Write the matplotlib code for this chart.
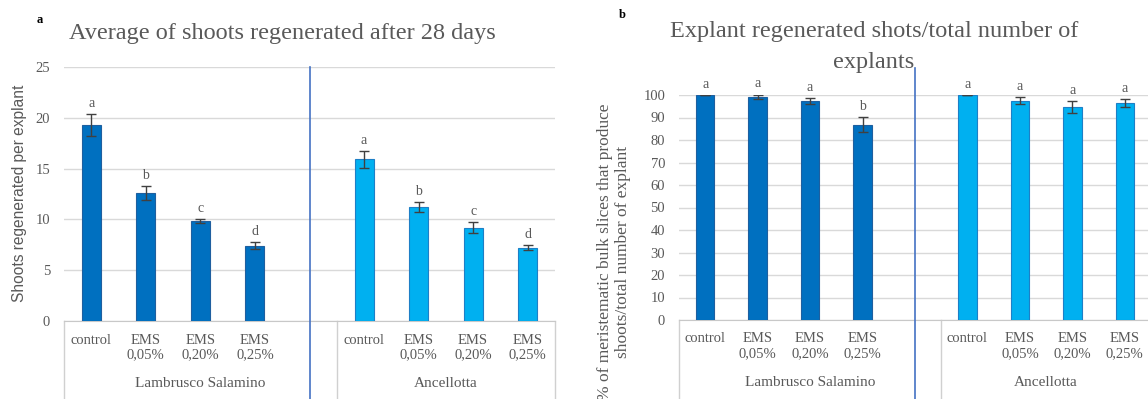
import matplotlib.pyplot as plt

# categories (slot 4 is left empty in both charts, as in the original sheet)
cat_labels = ["control", "EMS\n0,05%", "EMS\n0,20%", "EMS\n0,25%"]
groups = ["Lambrusco Salamino", "Ancellotta"]

# panel a: average shoots regenerated per explant
shoots_lamb = [19.3, 12.6, 9.85, 7.4]
shoots_lamb_err = [1.1, 0.7, 0.2, 0.35]
shoots_anc = [15.9, 11.2, 9.2, 7.2]
shoots_anc_err = [0.8, 0.5, 0.55, 0.25]
letters_a_lamb = ["a", "b", "c", "d"]
letters_a_anc = ["a", "b", "c", "d"]

# panel b: % of explants producing shoots
pct_lamb = [100, 99.2, 97.3, 86.8]
pct_lamb_err = [0, 1.0, 1.5, 3.3]
pct_anc = [100, 97.5, 94.7, 96.4]
pct_anc_err = [0, 1.5, 2.6, 1.7]
letters_b_lamb = ["a", "a", "a", "b"]
letters_b_anc = ["a", "a", "a", "a"]

SERIF = "Liberation Serif"
TXT = "#595959"
DARK = "#0070C0"
LIGHT = "#00B0F0"
W, H = 1148, 399

fig = plt.figure(figsize=(W / 100, H / 100), dpi=100)


def draw_panel(ax, v1, e1, l1, v2, e2, l2, ymax, ystep, div_top):
    x1 = [0, 1, 2, 3]
    x2 = [5, 6, 7, 8]
    ax.bar(x1, v1, width=0.35, color=DARK, edgecolor="#1F5F9F", linewidth=0.8, zorder=3)
    ax.bar(x2, v2, width=0.35, color=LIGHT, edgecolor="#1E7FC6", linewidth=0.8, zorder=3)
    for xs, vs, es, ls in [(x1, v1, e1, l1), (x2, v2, e2, l2)]:
        ax.errorbar(xs, vs, yerr=es, fmt="none", ecolor="#404040",
                    elinewidth=1, capsize=3.5, capthick=1, zorder=4)
        for x, v, e, t in zip(xs, vs, es, ls):
            ax.annotate(t, (x, v + e), xytext=(0, 3), textcoords="offset points",
                        ha="center", va="bottom", fontsize=10, color=TXT,
                        family=SERIF)
    ax.set_xlim(-0.5, 8.5)
    ax.set_ylim(0, ymax)
    ax.set_yticks(range(0, ymax + 1, ystep))
    ax.yaxis.grid(True, color="#D9D9D9", linewidth=1, zorder=0)
    ax.set_axisbelow(True)
    for s in ["left", "right", "top"]:
        ax.spines[s].set_visible(False)
    ax.spines["bottom"].set_color("#C8C8C8")
    ax.tick_params(axis="y", length=0, pad=10, labelsize=10.5, labelcolor=TXT)
    ax.tick_params(axis="x", length=0, pad=9, labelsize=10.5, labelcolor=TXT)
    ax.set_xticks(x1 + x2)
    ax.set_xticklabels(cat_labels + cat_labels)
    for lab in ax.get_xticklabels() + ax.get_yticklabels():
        lab.set_family(SERIF)
    tr = ax.get_xaxis_transform()
    # category group boxes
    for xs in [-0.5, 4.5, 8.5]:
        ax.plot([xs, xs], [0, -0.6], transform=tr, color="#D0D0D0",
                linewidth=1, clip_on=False)
    ax.annotate(groups[0], (2, 0), xycoords=tr, xytext=(0, -45),
                textcoords="offset points", ha="center", va="center",
                fontsize=11, color=TXT, family=SERIF)
    ax.annotate(groups[1], (6.5, 0), xycoords=tr, xytext=(0, -45),
                textcoords="offset points", ha="center", va="center",
                fontsize=11, color=TXT, family=SERIF)
    # blue divider between cultivars
    ax.plot([4, 4], [div_top, -0.6], transform=tr, color="#4472C4",
            linewidth=1.2, clip_on=False, zorder=5)


ax1 = fig.add_axes([64 / W, 78 / H, 491 / W, 254 / H])
draw_panel(ax1, shoots_lamb, shoots_lamb_err, letters_a_lamb,
           shoots_anc, shoots_anc_err, letters_a_anc, 25, 5, 1.0)

ax2 = fig.add_axes([679 / W, 79 / H, 472 / W, 225 / H])
draw_panel(ax2, pct_lamb, pct_lamb_err, letters_b_lamb,
           pct_anc, pct_anc_err, letters_b_anc, 100, 10, 1.12)

fig.text(282 / W, 1 - 34 / H, "Average of shoots regenerated after 28 days",
         ha="center", va="center", fontsize=17.5, color=TXT, family=SERIF)
fig.text(874 / W, 1 - 47 / H, "Explant regenerated shots/total number of\nexplants",
         ha="center", va="center", fontsize=17.5, color=TXT, family=SERIF,
         linespacing=1.6)
fig.text(40 / W, 1 - 20 / H, "a", ha="center", va="center", fontsize=9,
         fontweight="bold", family=SERIF)
fig.text(622 / W, 1 - 15 / H, "b", ha="center", va="center", fontsize=9,
         fontweight="bold", family=SERIF)

fig.text(20 / W, 1 - 193 / H, "Shoots regenerated per explant", rotation=90,
         ha="center", va="center", fontsize=11.2, color=TXT,
         family="Liberation Sans")
fig.text(614 / W, 1 - 252 / H,
         "% of meristematic bulk slices that produce\nshoots/total number of explant",
         rotation=90, ha="center", va="center", fontsize=12.5, color=TXT,
         family=SERIF)

fig.savefig("out.png", dpi=100)
